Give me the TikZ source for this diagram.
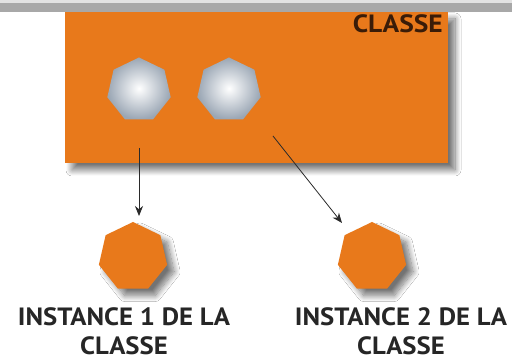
\documentclass[tikz,border=0pt]{standalone}
\usepackage{fontspec}
\setmainfont{PT Sans}
\usetikzlibrary{shapes.geometric,arrows.meta,shadows.blur}
\definecolor{orng}{HTML}{E8791B}
\definecolor{bar}{HTML}{A8A8A8}
\definecolor{barlight}{HTML}{E2E2E2}
\definecolor{holegray}{HTML}{9AA6B4}
\definecolor{darktxt}{HTML}{3A1C08}
\definecolor{arr}{HTML}{2A2A2A}
\tikzset{
  shd/.style={blur shadow={shadow xshift=7pt,shadow yshift=-7pt,shadow blur radius=6pt,shadow blur steps=12,shadow opacity=55}},
  hept/.style={regular polygon,regular polygon sides=7,inner sep=0pt},
  hole/.style={hept,minimum size=65pt,inner color=white,outer color=holegray},
  inst/.style={hept,minimum size=70pt,fill=orng,shd},
  lbl/.style={font=\fontsize{25}{28}\selectfont\bfseries,text=black!85,anchor=base,inner sep=0pt,xscale=1.07},
  conn/.style={draw=arr,line width=0.8pt,-{Stealth[length=10pt,width=8pt]}}
}
\begin{document}
\begin{tikzpicture}[x=1pt,y=-1pt]
\useasboundingbox (0,0) rectangle (512,363);
\fill[white] (0,0) rectangle (512,363);
\node[draw=none,fill=orng,minimum width=383pt,minimum height=151pt,inner sep=0pt,shd] (cls) at (256.5,87.5) {};
\fill[barlight] (0,0) rectangle (512,3);
\fill[bar] (0,3) rectangle (512,12);
\node[anchor=base east,font=\fontsize{25}{27}\selectfont\bfseries,text=darktxt,xscale=1.1,inner sep=0pt] (clsname) at (443,33) {CLASSE};
\node[hole] (h1) at (139,90) {};
\node[hole] (h2) at (229,90) {};
\node[inst] (i1) at (133,257) {};
\node[inst] (i2) at (372,257) {};
\coordinate (s1) at (139,148);
\coordinate (e1) at (139,216);
\coordinate (s2) at (273,136);
\coordinate (e2) at (342,223);
\draw[conn] (s1) -- (e1);
\draw[conn] (s2) -- (e2);
\node[lbl] (t1a) at (124,326) {INSTANCE 1 DE LA};
\node[lbl] (t1b) at (124,355) {CLASSE};
\node[lbl] (t2a) at (401,326) {INSTANCE 2 DE LA};
\node[lbl] (t2b) at (401,355) {CLASSE};
\end{tikzpicture}
\end{document}
